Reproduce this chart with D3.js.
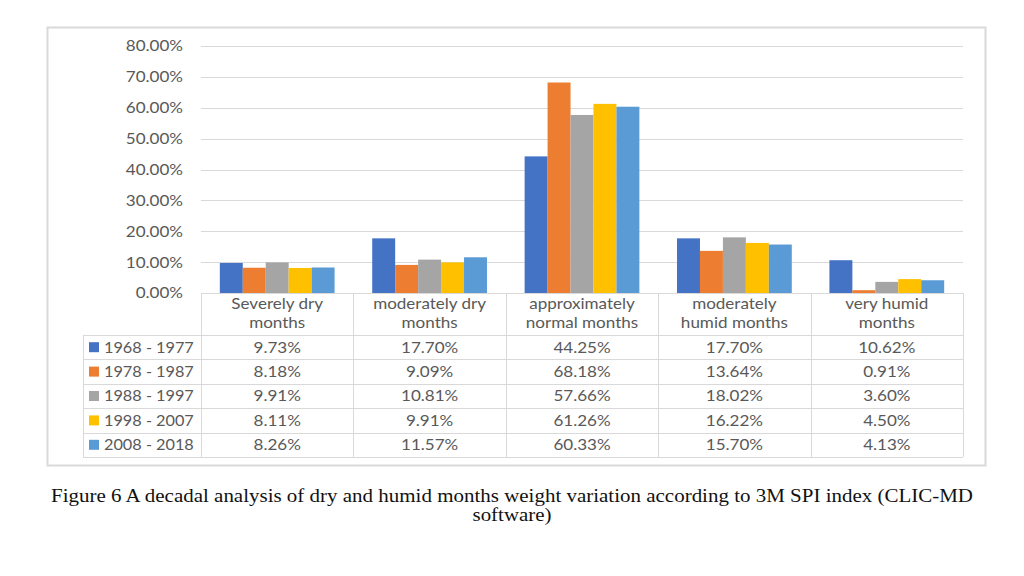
<!DOCTYPE html>
<html><head><meta charset="utf-8">
<script src="https://cdn.jsdelivr.net/npm/d3@7"></script>
<style>body{margin:0;background:#fff}svg{display:block}</style>
</head><body>
<svg id="c" width="1024" height="576"></svg>
<script>
const categories = [["Severely dry","months"],["moderately dry","months"],["approximately","normal months"],["moderately","humid months"],["very humid","months"]];
const seriesNames = ["1968 - 1977","1978 - 1987","1988 - 1997","1998 - 2007","2008 - 2018"];
const s1968 = [9.73,17.70,44.25,17.70,10.62];
const s1978 = [8.18,9.09,68.18,13.64,0.91];
const s1988 = [9.91,10.81,57.66,18.02,3.60];
const s1998 = [8.11,9.91,61.26,16.22,4.50];
const s2008 = [8.26,11.57,60.33,15.70,4.13];
const colors = ["#4472C4","#ED7D31","#A5A5A5","#FFC000","#5B9BD5"];
const yTicks = [0,10,20,30,40,50,60,70,80];
const caption1 = "Figure 6 A decadal analysis of dry and humid months weight variation according to 3M SPI index (CLIC-MD";
const caption2 = "software)";

(function(){
const series = [s1968,s1978,s1988,s1998,s2008];
const svg = d3.select("#c");
const font = "Lato, 'Open Sans', sans-serif";
const txt = "#595959";
const SX = 1.1, FS = 15.5;

function label(g, x, y, s, anchor, sx){
  return g.append("text").attr("transform",`translate(${x},${y}) scale(${sx||SX},1)`)
    .attr("dy","0.35em").attr("text-anchor",anchor).attr("font-family",font)
    .attr("font-size",FS).attr("fill",txt).text(s);
}

svg.append("rect").attr("x",47.5).attr("y",27.5).attr("width",938).attr("height",438)
  .attr("fill","#fff").attr("stroke","#d9d9d9").attr("stroke-width",2);

const pL=201, pR=963, pT=46, pB=293;
const x = d3.scaleBand().domain(d3.range(categories.length)).range([pL,pR]);
const y = d3.scaleLinear().domain([0,80]).range([pB,pT]);
const xs = d3.scaleBand().domain(d3.range(series.length)).range([0,x.bandwidth()]).paddingOuter(0.82).paddingInner(0);

svg.append("g").selectAll("line").data(yTicks).join("line")
  .attr("x1",pL).attr("x2",pR).attr("y1",d=>Math.round(y(d))+0.5).attr("y2",d=>Math.round(y(d))+0.5)
  .attr("stroke","#d9d9d9").attr("stroke-width",1);

const yg = svg.append("g");
yTicks.forEach(d=>label(yg,183,y(d),d.toFixed(2)+"%","end"));

series.forEach((s,si)=>{
  svg.append("g").selectAll("rect").data(s).join("rect")
    .attr("x",(d,i)=>x(i)+xs(si)).attr("width",xs.bandwidth())
    .attr("y",d=>y(d)).attr("height",d=>y(0)-y(d)).attr("fill",colors[si]);
});

const tLeft=83, hdrBottom=335, rowH=24.4;
const tg = svg.append("g");
const tbl = "#d9d9d9";
const vx = d3.range(categories.length+1).map(i=> i<categories.length ? x(i) : pR);
vx.forEach(vv=>{
  tg.append("line").attr("x1",Math.round(vv)+0.5).attr("x2",Math.round(vv)+0.5)
    .attr("y1",pB).attr("y2",hdrBottom+rowH*5).attr("stroke",tbl);
});
tg.append("line").attr("x1",tLeft+0.5).attr("x2",tLeft+0.5).attr("y1",hdrBottom).attr("y2",hdrBottom+rowH*5).attr("stroke",tbl);
d3.range(6).forEach(r=>{
  const yy = Math.round(hdrBottom+rowH*r)+0.5;
  tg.append("line").attr("x1",tLeft).attr("x2",pR).attr("y1",yy).attr("y2",yy).attr("stroke",tbl);
});
categories.forEach((c,i)=>{
  c.forEach((line,li)=>label(tg,x(i)+x.bandwidth()/2,304+li*19,line,"middle"));
});
series.forEach((s,si)=>{
  const cy = hdrBottom+rowH*si+rowH/2;
  tg.append("rect").attr("x",89).attr("y",cy-5).attr("width",10).attr("height",10).attr("fill",colors[si]);
  label(tg,104,cy,seriesNames[si],"start",1.05);
  s.forEach((v,i)=>label(tg,x(i)+x.bandwidth()/2,cy,v.toFixed(2)+"%","middle"));
});

const cf = "'Liberation Serif', 'DejaVu Serif', serif";
svg.append("text").attr("x",512).attr("y",502).attr("text-anchor","middle")
  .attr("font-family",cf).attr("font-size",19).attr("fill","#111")
  .attr("textLength",922).attr("lengthAdjust","spacingAndGlyphs").text(caption1);
svg.append("text").attr("x",512).attr("y",521).attr("text-anchor","middle")
  .attr("font-family",cf).attr("font-size",19).attr("fill","#111")
  .attr("textLength",79).attr("lengthAdjust","spacingAndGlyphs").text(caption2);
})();
</script>
</body></html>
